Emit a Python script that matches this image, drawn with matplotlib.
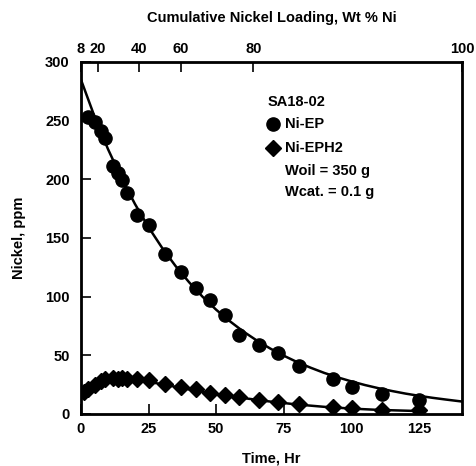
import numpy as np
import matplotlib
matplotlib.use("Agg")
import matplotlib.pyplot as plt

plt.rcParams['font.family'] = ['Liberation Sans', 'DejaVu Sans']
plt.rcParams['font.weight'] = 'bold'

# Ni-EP (circles) measured nickel, ppm
ep_time = [2.6, 5.2, 7.4, 8.9, 11.9, 13.7, 15.2, 17.0, 20.7, 25.2, 31.1, 37.0,
           42.6, 47.8, 53.3, 58.5, 65.9, 73.0, 80.7, 93.3, 100.4, 111.5, 125.0]
ep_ni = [253, 249, 241, 235, 211, 205, 199, 188, 170, 161, 136, 121,
         107, 97, 84, 67, 59, 52, 41, 30, 23, 17, 12]

# Ni-EPH2 (diamonds) measured nickel, ppm
eph2_time = [1.0, 2.6, 5.2, 7.4, 8.9, 11.9, 13.7, 15.2, 17.0, 20.7, 25.2, 31.1, 37.0,
             42.6, 47.8, 53.3, 58.5, 65.9, 73.0, 80.7, 93.3, 100.4, 111.5, 125.0]
eph2_ni = [19, 21, 25, 28, 30, 31, 30, 31, 30, 30, 29, 25.6, 23.3,
           21, 17.6, 16.2, 14.7, 12, 10.5, 8.5, 6.2, 5.4, 3.4, 3.4]

# fitted curves
ep_fit_time = [0, 5, 10, 15, 20, 25, 30, 35, 40, 45, 50, 55, 60, 65, 70,
               75, 80, 85, 90, 95, 100, 105, 110, 115, 120, 125, 130, 135, 141]
ep_fit_ni = [285, 253.7, 225.8, 201.0, 178.9, 159.2, 141.7, 126.1, 112.3, 99.9,
             88.9, 79.2, 70.4, 62.7, 55.8, 49.7, 44.2, 39.4, 35.0, 31.2, 27.8,
             24.7, 22.0, 19.6, 17.4, 15.5, 13.8, 12.3, 10.6]
eph2_fit_time = [0, 2.5, 5, 7.5, 10, 12.5, 15, 20, 25, 30, 40, 50, 60, 70,
                 80, 90, 100, 110, 125]
eph2_fit_ni = [17.5, 21.5, 25, 27.5, 29, 29.8, 30, 29.3, 27.5, 25.3, 21, 17,
               13.6, 10.6, 8.1, 6.1, 4.6, 3.5, 2.5]

# cumulative nickel loading (top scale) and the hours it falls at
loading_labels = [8, 20, 40, 60, 80, 100]
loading_hours = [0, 6.2, 21.6, 36.9, 63.8, 141]

fig = plt.figure(figsize=(4.76, 4.66), dpi=100)
ax = fig.add_axes([0.170, 0.1116, 0.801, 0.7554])

ax.plot(ep_fit_time, ep_fit_ni, color='black', lw=1.8, zorder=2)
ax.plot(eph2_fit_time, eph2_fit_ni, color='black', lw=1.8, zorder=2)
ax.plot(ep_time, ep_ni, 'o', color='black', ms=9.5, zorder=3)
ax.plot(eph2_time, eph2_ni, 'D', color='black', ms=8.5, zorder=3)

ax.set_xlim(0, 141)
ax.set_ylim(0, 300)
ax.set_xticks([0, 25, 50, 75, 100, 125])
ax.set_yticks([0, 50, 100, 150, 200, 250, 300])
ax.tick_params(direction='in', length=7, width=1.2, labelsize=10.5, pad=6)
ax.tick_params(axis='y', pad=8)
for s in ax.spines.values():
    s.set_linewidth(2)

ax.set_xlabel('Time, Hr', fontsize=10.5, fontweight='bold', labelpad=11)
ax.set_ylabel('Nickel, ppm', fontsize=10.5, fontweight='bold', labelpad=14)

top = ax.twiny()
top.set_xlim(ax.get_xlim())
top.set_xticks(loading_hours)
top.set_xticklabels([str(v) for v in loading_labels])
top.tick_params(direction='in', length=7, width=1.2, labelsize=10.5, pad=4)
top.set_xlabel('Cumulative Nickel Loading, Wt % Ni', fontsize=10.5,
               fontweight='bold', labelpad=15)

# legend block
ax.text(0.49, 0.885, 'SA18-02', transform=ax.transAxes, fontsize=10.5,
        fontweight='bold', va='center')
ax.plot([0.503], [0.823], 'o', color='black', ms=9.5, transform=ax.transAxes,
        clip_on=False)
ax.text(0.535, 0.823, 'Ni-EP', transform=ax.transAxes, fontsize=10.5,
        fontweight='bold', va='center')
ax.plot([0.503], [0.757], 'D', color='black', ms=8.5, transform=ax.transAxes,
        clip_on=False)
ax.text(0.535, 0.757, 'Ni-EPH2', transform=ax.transAxes, fontsize=10.5,
        fontweight='bold', va='center')
ax.text(0.535, 0.69, 'Woil = 350 g', transform=ax.transAxes, fontsize=10.5,
        fontweight='bold', va='center')
ax.text(0.535, 0.63, 'Wcat. = 0.1 g', transform=ax.transAxes, fontsize=10.5,
        fontweight='bold', va='center')

fig.savefig('out.png', dpi=100)
